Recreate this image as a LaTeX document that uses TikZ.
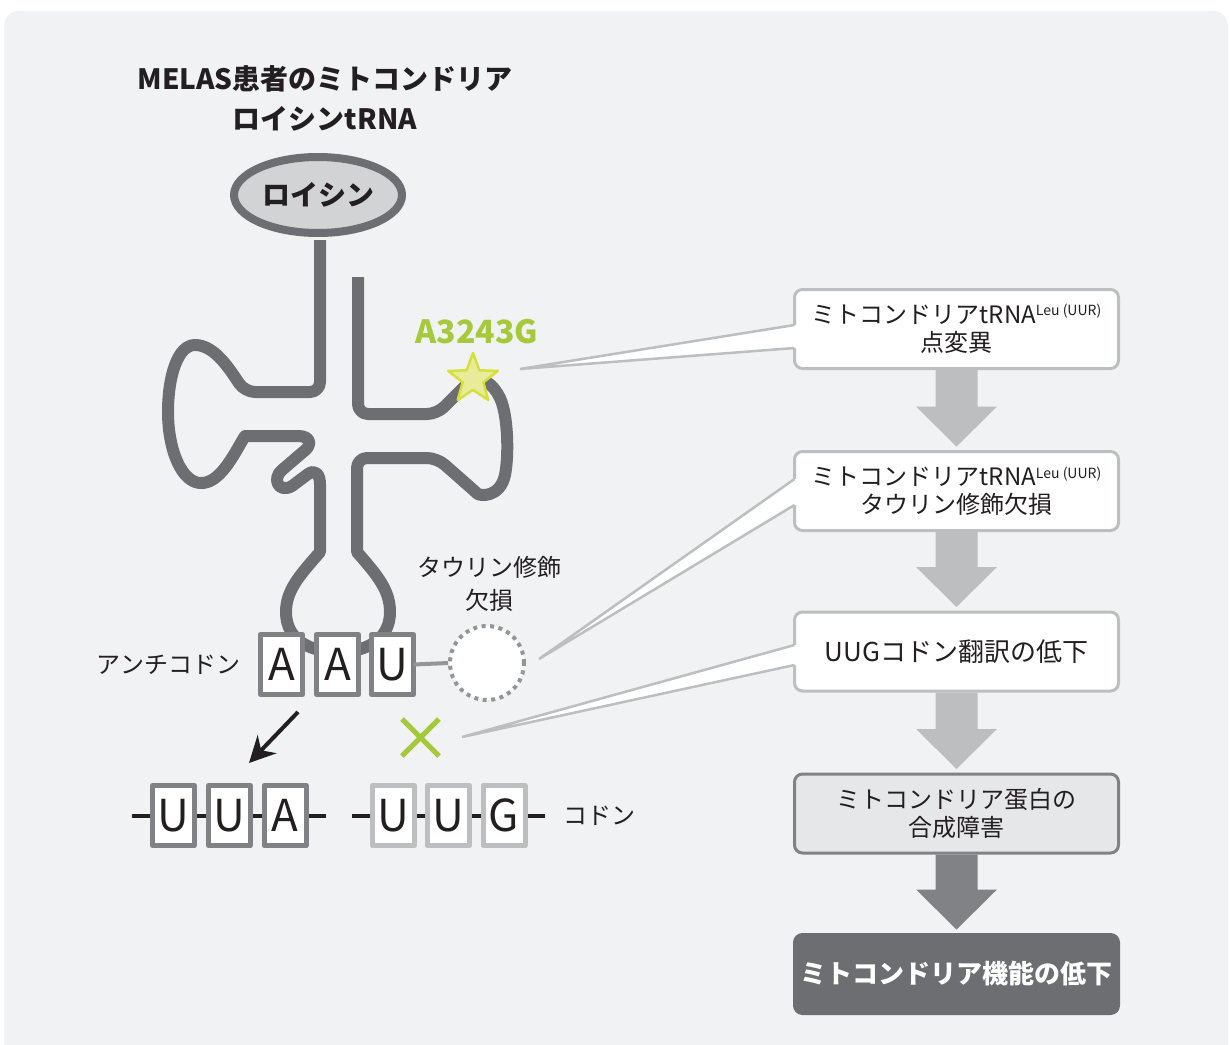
\documentclass[tikz,border=0pt]{standalone}
\usepackage{fontspec}
\setmainfont{Noto Sans CJK JP}
\usetikzlibrary{shapes.geometric,shapes.misc,arrows.meta,calc}
\definecolor{bgc}{HTML}{F1F2F4}
\definecolor{rnagray}{HTML}{6D6E71}
\definecolor{midgray}{HTML}{808285}
\definecolor{dotgray}{HTML}{939598}
\definecolor{ltgray}{HTML}{BCBEC0}
\definecolor{leugray}{HTML}{D1D3D4}
\definecolor{palebox}{HTML}{E6E7E8}
\definecolor{mutgreen}{HTML}{A5C93B}
\definecolor{starfill}{HTML}{E8EC9A}
\definecolor{staredge}{HTML}{D6E03B}
\definecolor{ink}{HTML}{231F20}
\newcommand{\fsz}[2]{\fontsize{#1}{#2}\selectfont}
\newcommand{\leuuur}{{\fsz{14}{14}\raisebox{7.5pt}{Leu (UUR)}}}
% grey block arrow from one box to the next
\newcommand{\blockarrow}[3]{%
  \fill[#3] ($(#1.south)+(-21,1.5)$) -- ($(#2.north)+(-21,-45)$) -- ($(#2.north)+(-40.5,-45)$)
    -- ($(#2.north)+(0,-5)$) -- ($(#2.north)+(40.5,-45)$) -- ($(#2.north)+(21,-45)$)
    -- ($(#1.south)+(21,1.5)$) -- cycle;}
\tikzset{
  nt/.style={draw=midgray,line width=5,fill=white,minimum width=42,minimum height=60,
    inner sep=0,outer sep=0,text=ink,font=\fsz{44}{44}},
  ntpale/.style={nt,draw=ltgray},
  flowbox/.style={draw=ltgray,line width=3,fill=white,rounded corners=8,minimum width=324,
    minimum height=79,inner sep=0,outer sep=0,align=center,text=ink,font=\fsz{24}{28}},
  callout/.style={ltgray,line width=2.5,line join=miter},
  label/.style={text=ink,align=center,font=\fsz{24}{33}}
}
\begin{document}
\begin{tikzpicture}[x=1pt,y=-1pt,>=stealth, line join=round]
	\useasboundingbox (0,0) rectangle (1230,1044);
	\fill[white] (0,0) rectangle (1230,1044);
	\fill[bgc,rounded corners=15] (4,11) rectangle (1228,1070);
	%\draw[gray!40] (0,0) grid[step=50] (1230,1044);

	\node[text=ink,align=center,font=\fsz{28}{40}\bfseries] (title) at (325,98)
		{MELAS患者のミトコンドリア\\ロイシンtRNA};

	% tRNA backbone, left half then right half
	\draw[rnagray,line width=12]
		(320,240) [rounded corners=10] -- (320,392) -- (245,392) [sharp corners]
		.. controls (230,370) and (215,345) .. (195,345)
		.. controls (177,345) and (168,378) .. (168,412)
		.. controls (168,450) and (182,485) .. (203,483)
		.. controls (222,481) and (235,452) .. (245,436) -- (298,436)
		.. controls (312,436) and (312,446) .. (303,452) -- (282,470)
		.. controls (272,478) and (278,494) .. (292,486) -- (308,474)
		.. controls (315,469) and (320,474) .. (320,484) -- (320,552)
		.. controls (300,575) and (286,590) .. (286,612)
		.. controls (286,640) and (310,652) .. (338,652)
		.. controls (366,652) and (390,640) .. (390,612)
		.. controls (390,590) and (377,575) .. (357,552)
		[rounded corners=10] -- (357,458) -- (437,458) -- (470,487) [sharp corners]
		.. controls (480,496) and (500,498) .. (505,475)
		.. controls (509,455) and (508,415) .. (500,398)
		.. controls (494,385) and (480,372) .. (467,384)
		[rounded corners=10] -- (437,414) -- (358,414) -- (358,277);

	\node[ellipse,draw=rnagray,line width=8,fill=leugray,minimum width=168,minimum height=76,
		inner sep=0,text=ink,font=\fsz{28}{28}\bfseries] (leu) at (318,195) {ロイシン};

	\node[star,star points=5,star point ratio=2.4,minimum size=52,inner sep=0,
		fill=starfill,draw=staredge,line width=2.5] (mut) at (473,379) {};
	\node[text=mutgreen,font=\fsz{32}{32}\bfseries] (mutlbl) at (477,332) {A3243G};

	% anticodon
	\node[nt] (ac1) at (281.5,664.5) {A};
	\node[nt] (ac2) at (337.5,664.5) {A};
	\node[nt] (ac3) at (392.5,664.5) {U};
	\node[label] (aclbl) at (168.5,665) {アンチコドン};

	\node[circle,draw=dotgray,line width=4,dash pattern=on 4pt off 4.5pt,fill=white,
		minimum size=74,inner sep=0] (tau) at (487,663) {};
	\draw[dotgray,line width=4] (ac3.east) -- (tau.west);
	\node[label] (taulbl) at (489,583.5) {タウリン修飾\\欠損};

	\coordinate (arrS) at (298,712);
	\coordinate (arrE) at (249,763);
	\draw[-{Stealth[length=26pt,width=26pt]},ink,line width=4] (arrS) -- (arrE);
	\node[cross out,draw=mutgreen,line width=5,minimum size=32,inner sep=0] (nox) at (420.5,737.5) {};

	% codons
	\coordinate (la0) at (132,816);  \coordinate (la1) at (326,816);
	\coordinate (lg0) at (352,816);  \coordinate (lg1) at (545,816);
	\draw[ink,line width=4] (la0) -- (la1) (lg0) -- (lg1);
	\node[nt] (cu1) at (173.5,815.5) {U};
	\node[nt] (cu2) at (229.5,815.5) {U};
	\node[nt] (cu3) at (285,815.5) {A};
	\node[ntpale] (cg1) at (393.5,815.5) {U};
	\node[ntpale] (cg2) at (448.5,815.5) {U};
	\node[ntpale] (cg3) at (504,815.5) {G};
	\node[label] (cdlbl) at (599,816) {コドン};

	% flow on the right
	\node[flowbox] (f1) at (956.5,329) {ミトコンドリアtRNA\leuuur\\点変異};
	\node[flowbox] (f2) at (956.5,491) {ミトコンドリアtRNA\leuuur\\タウリン修飾欠損};
	\node[flowbox,font=\fsz{26}{30}] (f3) at (956.5,651.5) {UUGコドン翻訳の低下};
	\node[flowbox,fill=palebox,draw=midgray] (f4) at (956.5,813.5) {ミトコンドリア蛋白の\\合成障害};
	\node[flowbox,fill=rnagray,draw=rnagray,text=white,font=\fsz{26}{30}\bfseries] (f5) at (956.5,974)
		{ミトコンドリア機能の低下};
	\blockarrow{f1}{f2}{ltgray}
	\blockarrow{f2}{f3}{ltgray}
	\blockarrow{f3}{f4}{ltgray}
	\blockarrow{f4}{f5}{midgray}

	% callout wedges
	\coordinate (t1) at (520,369); \coordinate (c1a) at (794.5,325); \coordinate (c1b) at (794.5,348);
	\coordinate (t2) at (539,659); \coordinate (c2a) at (794.5,479); \coordinate (c2b) at (794.5,505);
	\coordinate (t3) at (462,737); \coordinate (c3a) at (794.5,645); \coordinate (c3b) at (794.5,665);
	\foreach \t/\a/\b in {t1/c1a/c1b, t2/c2a/c2b, t3/c3a/c3b}{
		\fill[white] (\t) -- (\a) -- ([xshift=3]\a) -- ([xshift=3]\b) -- (\b) -- cycle;
		\draw[callout] (\a) -- (\t) -- (\b);
	}
\end{tikzpicture}
\end{document}
